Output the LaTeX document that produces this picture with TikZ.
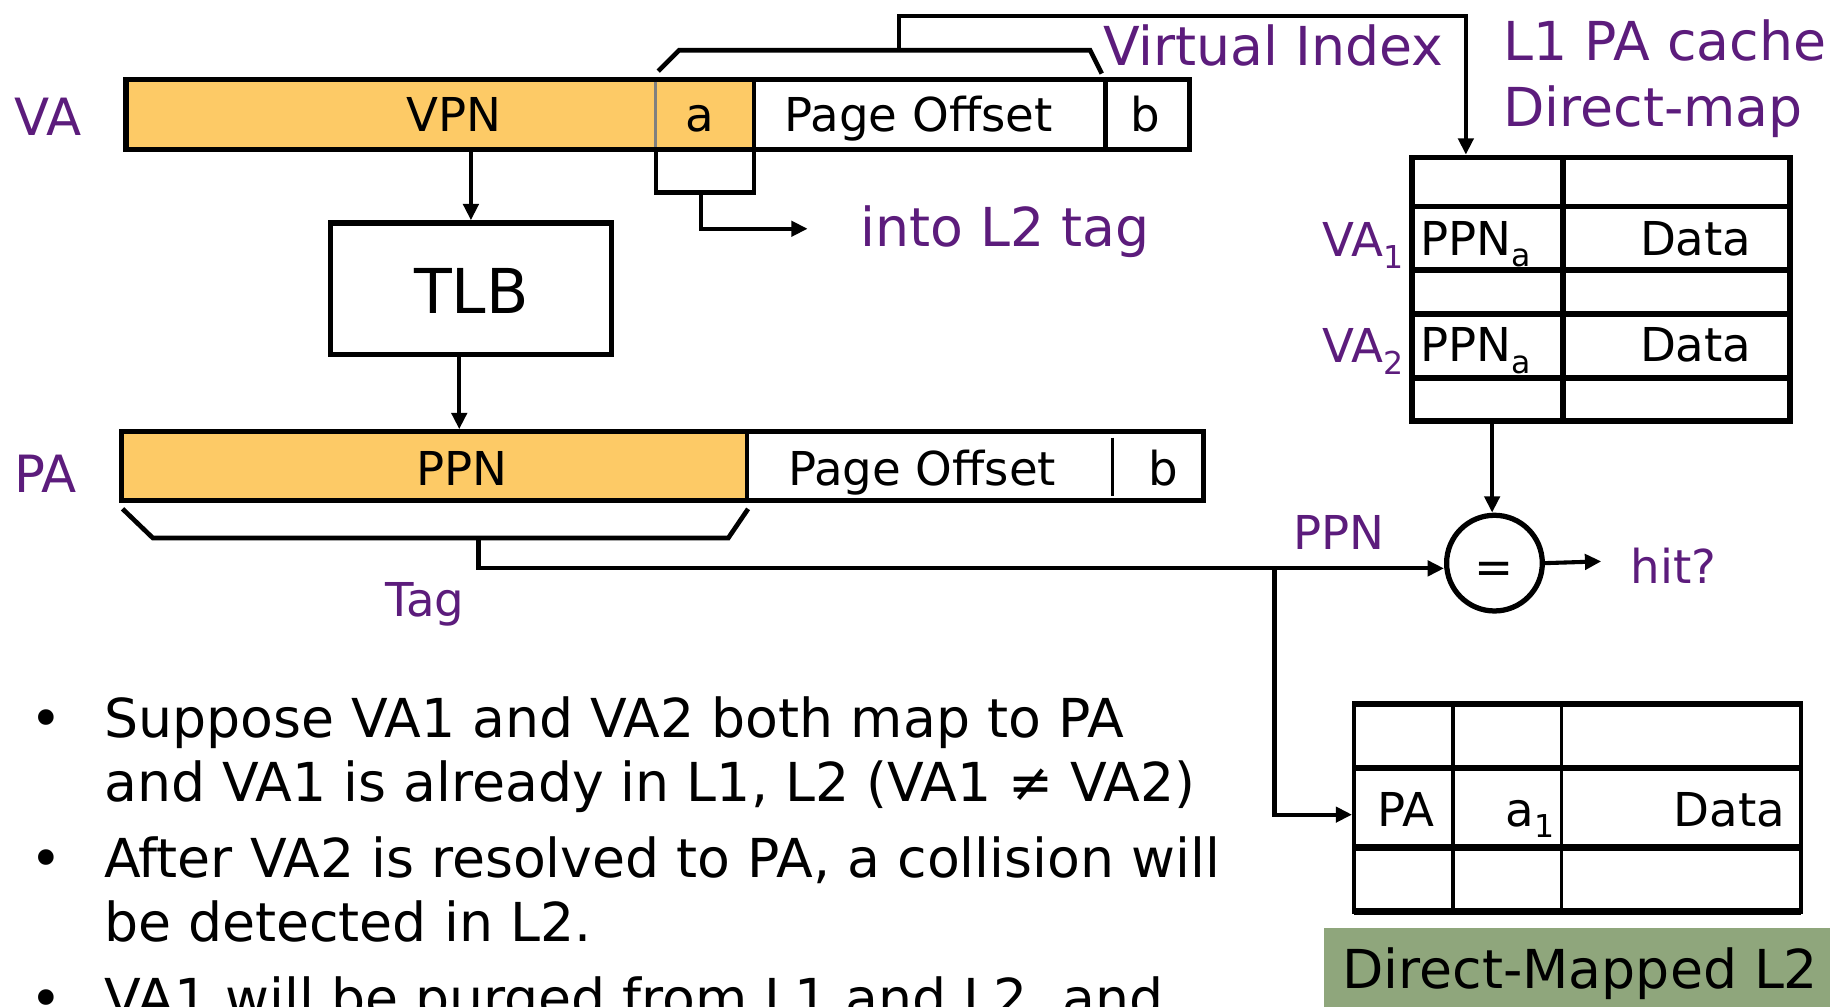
\documentclass[tikz,border=0pt]{standalone}
\usepackage{fontspec}
\setmainfont{DejaVu Sans}
\usetikzlibrary{arrows.meta}
\definecolor{plum}{RGB}{92,28,124}
\definecolor{bargold}{RGB}{253,202,102}
\definecolor{sage}{RGB}{143,166,124}
% lowered subscript in a smaller size
\newcommand\lowsub[1]{\raisebox{-10pt}{\fontsize{27}{27}\selectfont #1}}

\tikzset{
  frame/.style={draw=black, line width=4.5pt, inner sep=0pt},
  wire/.style={line width=3.5pt},
  brk/.style={line width=4pt},
  arr/.style={wire, -{Triangle[length=14pt,width=13pt]}},
  lbl/.style={text=plum, font=\fontsize{46}{55}\selectfont, inner sep=0pt},
  lblsm/.style={text=plum, font=\fontsize{40}{48}\selectfont, inner sep=0pt},
  txt/.style={font=\fontsize{40}{48}\selectfont, inner sep=0pt},
  big/.style={font=\fontsize{53}{60}\selectfont, inner sep=0pt},
  bul/.style={font=\fontsize{46}{55}\selectfont, inner sep=0pt, anchor=base west},
}

\begin{document}
\begin{tikzpicture}[x=1pt,y=-1pt]
\useasboundingbox (0,0) rectangle (1568,862);
\clip (0,0) rectangle (1568,862);

% ---------- virtual address ----------
\fill[bargold] (108,68) rectangle (646,128);
\node[frame, minimum width=911pt, minimum height=60pt] (va) at (563.5,98) {};
\draw[gray, line width=2.5pt] (562,70) -- (562,126);
\draw[line width=4pt] (646,68) -- (646,128);
\draw[line width=4pt] (947,68) -- (947,128);
\node[txt, anchor=base] (vpn) at (389,113) {VPN};
\node[txt, anchor=base] (fa) at (600,113) {a};
\node[txt, anchor=base west] (voff) at (672,113) {Page Offset};
\node[txt, anchor=base] (vb) at (981,113) {b};
\node[lbl, anchor=base west, font=\fontsize{44}{52}\selectfont] (valbl) at (12,116) {VA};

% bracket over a + page offset (virtual index)
\draw[brk] (564,61) -- (582,43) -- (934,43) -- (944,63);
\coordinate (vib) at (770,43);
\coordinate (vturn) at (1256,14);
\node[lbl, anchor=base west] (vidx) at (945,56) {Virtual Index};

% bracket under a (into L2 tag)
\draw[brk] (562,128) -- (562,165) -- (646,165) -- (646,128);
\coordinate (abr) at (601,165);
\coordinate (l2tag) at (692,196);
\node[lbl, anchor=base west] (intol2) at (737,211) {into L2 tag};

% ---------- TLB ----------
\node[frame, minimum width=241pt, minimum height=113pt] (tlb) at (403.5,247.5) {};
\node[big, anchor=base] (tlbt) at (404,269) {TLB};

% ---------- physical address ----------
\fill[bargold] (104,370) rectangle (640,429);
\node[frame, minimum width=927pt, minimum height=59pt] (pa) at (567.5,399.5) {};
\draw[line width=4pt] (640,370) -- (640,429);
\draw[line width=3pt] (953,375) -- (953,425);
\node[txt, anchor=base] (ppn) at (396,416) {PPN};
\node[txt, anchor=base west] (poff) at (675,416) {Page Offset};
\node[txt, anchor=base] (pb) at (997,416) {b};
\node[lbl, anchor=base west, font=\fontsize{44}{52}\selectfont] (palbl) at (12,422) {PA};

% tag bracket
\draw[brk] (105,436) -- (131,461) -- (624,461) -- (641,436);
\coordinate (tagc) at (410,461);
\coordinate (tj) at (1092,487);
\node[lblsm, anchor=base west] (tag) at (330,528) {Tag};

% ---------- L1 cache ----------
\node[lbl, anchor=base west] (l1a) at (1288,52) {L1 PA cache};
\node[lbl, anchor=base west] (l1b) at (1288,108) {Direct-map};
\node[draw=black, line width=5pt, inner sep=0pt, minimum width=324pt, minimum height=226pt] (l1) at (1372,248) {};
\foreach \yy in {177,231,269,324} \draw[line width=5pt] (1210,\yy) -- (1534,\yy);
\draw[line width=5pt] (1339,135) -- (1339,361);
\node[txt, anchor=base west] (c1) at (1217,218.5) {PPN\lowsub{a}};
\node[txt, anchor=base west] (d1) at (1405,218.5) {Data};
\node[txt, anchor=base west] (c2) at (1217,310) {PPN\lowsub{a}};
\node[txt, anchor=base west] (d2) at (1405,310) {Data};
\node[lblsm, anchor=base east] (va1) at (1203,220) {VA\lowsub{1}};
\node[lblsm, anchor=base east] (va2) at (1203,311) {VA\lowsub{2}};

% ---------- comparator ----------
\node[draw=black, line width=4.5pt, circle, minimum size=82pt, inner sep=0pt] (eq) at (1280.5,482.5) {};
\node[txt, anchor=center] (eqs) at (1280.5,491) {=};
\coordinate (hitend) at (1372,481);
\node[lblsm, anchor=base west] (hit) at (1397,500) {hit?};
\node[lblsm, anchor=base west] (ppnl) at (1108,471) {PPN};

% ---------- L2 cache ----------
\node[draw=black, line width=3pt, inner sep=0pt, minimum width=383pt, minimum height=179pt] (l2) at (1351.5,692) {};
\foreach \yy in {603,658,726,781} \draw[line width=5.5pt] (1160,\yy) -- (1543,\yy);
\draw[line width=3pt] (1245,603) -- (1245,781);
\draw[line width=3pt] (1338,603) -- (1338,781);
\node[txt, anchor=base west] (l2pa) at (1180,708) {PA};
\node[txt, anchor=base west] (l2a) at (1290,708) {a\lowsub{1}};
\node[txt, anchor=base east] (l2d) at (1530,708) {Data};
\node[fill=sage, inner sep=0pt, minimum width=440pt, minimum height=80pt, anchor=north west] (l2cap) at (1134,795) {};
\node[bul] (l2capt) at (1150,847) {Direct-Mapped L2};

% ---------- connectors ----------
\draw[arr] (tlb.north |- va.south) -- (tlb.north);
\draw[arr] ([xshift=-10pt]tlb.south) -- ([xshift=-10pt]tlb.south |- pa.north);
\draw[arr] (abr) |- (l2tag);
\draw[arr] (vib) |- (vturn) -- (vturn |- l1.north);
\draw[wire] (tagc) |- (tj);
\draw[arr] (tj) -- (tj -| eq.west);
\draw[arr] ([xshift=-2pt]eq.north |- l1.south) -- ([xshift=-2pt]eq.north);
\draw[arr] (eq.east) -- (hitend);
\draw[arr] (tj) |- (l2.west |- 0,698);

% ---------- notes ----------
\node[bul] (b1) at (26,632) {•};
\node[bul] (t1) at (89,632) {Suppose VA1 and VA2 both map to PA};
\node[bul] (t2) at (89,687) {and VA1 is already in L1, L2 (VA1 ≠ VA2)};
\node[bul] (b2) at (26,752) {•};
\node[bul] (t3) at (89,752) {After VA2 is resolved to PA, a collision will};
\node[bul] (t4) at (89,807) {be detected in L2.};
\node[bul] (b3) at (26,872) {•};
\node[bul] (t5) at (89,872) {VA1 will be purged from L1 and L2, and};
\end{tikzpicture}
\end{document}
